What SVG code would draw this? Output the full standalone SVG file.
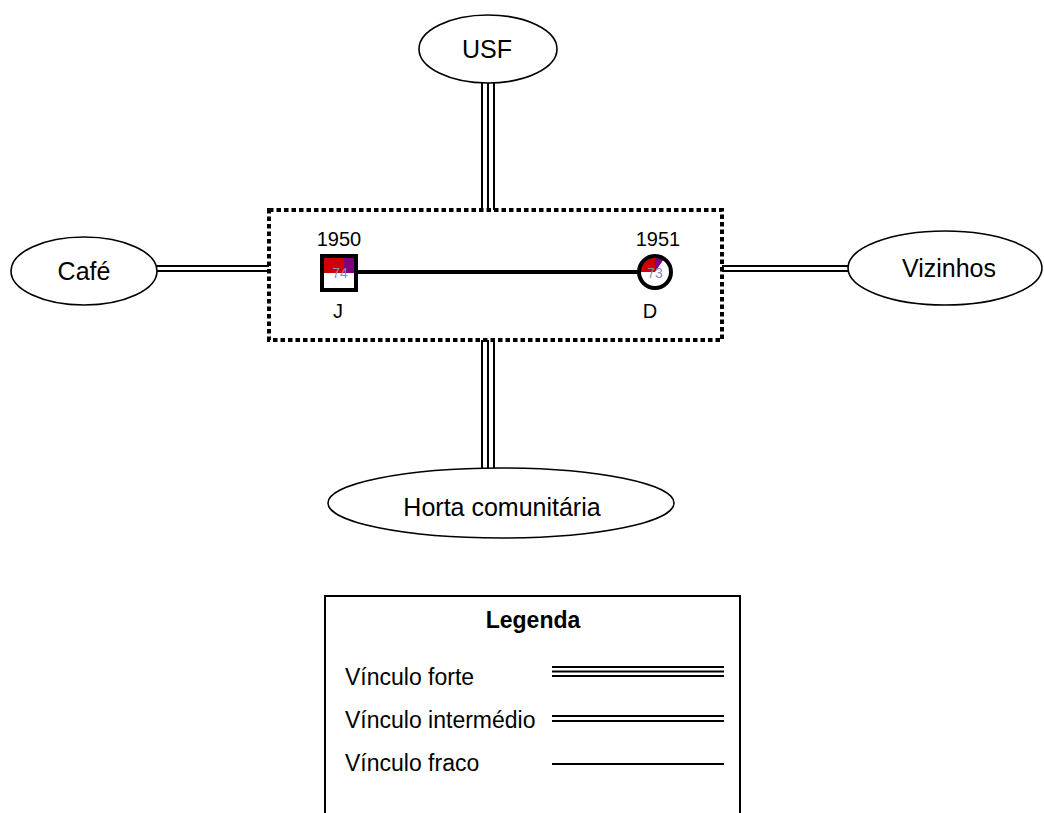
<svg xmlns="http://www.w3.org/2000/svg" width="1044" height="813" viewBox="0 0 1044 813">
  <style>
    .lbl { font-family: "Liberation Sans", Arial, sans-serif; fill: #000; }
    .big { font-size: 25px; text-anchor: middle; }
    .yr { font-size: 20px; text-anchor: middle; }
    .leg { font-size: 23px; }
    .age { font-family: "Liberation Sans", Arial, sans-serif; font-size: 14px; fill: #8a8fb0; text-anchor: middle; }
    .ell { fill: #fff; stroke: #000; stroke-width: 1.6; }
    .tie { stroke: #000; stroke-width: 2; fill: none; }
  </style>

  <rect width="1044" height="813" fill="#fff"/>

  <!-- connectors between the household and its contacts -->
  <g id="connectors">
    <!-- USF: strong tie -->
    <line class="tie" x1="482" y1="82" x2="482" y2="210"/>
    <line class="tie" x1="488" y1="82" x2="488" y2="210"/>
    <line class="tie" x1="494" y1="82" x2="494" y2="210"/>
    <!-- Horta comunitária: strong tie -->
    <line class="tie" x1="482" y1="340" x2="482" y2="468"/>
    <line class="tie" x1="488" y1="340" x2="488" y2="468"/>
    <line class="tie" x1="494" y1="340" x2="494" y2="468"/>
    <!-- Café: intermediate tie -->
    <line class="tie" x1="156" y1="266" x2="269" y2="266"/>
    <line class="tie" x1="156" y1="271" x2="269" y2="271"/>
    <!-- Vizinhos: intermediate tie -->
    <line class="tie" x1="722" y1="266" x2="848" y2="266"/>
    <line class="tie" x1="722" y1="271" x2="848" y2="271"/>
  </g>

  <!-- household frame -->
  <g id="household">
    <rect x="269" y="210" width="453" height="130" fill="none" stroke="#000" stroke-width="4" stroke-dasharray="4.5 3"/>
    <!-- marriage line -->
    <line x1="356" y1="272" x2="640" y2="272" stroke="#000" stroke-width="4"/>
  </g>

  <g id="node-J">
    <text class="lbl yr" x="339" y="246">1950</text>
    <rect x="322" y="256" width="34" height="34" fill="#fff"/>
    <rect x="322" y="256" width="22" height="17" fill="#d00000"/>
    <rect x="344" y="256" width="12" height="17" fill="#800080"/>
    <rect x="322" y="256" width="34" height="34" fill="none" stroke="#000" stroke-width="4"/>
    <text class="age" x="340" y="278">74</text>
    <text class="lbl yr" x="338" y="318">J</text>
  </g>

  <g id="node-D">
    <text class="lbl yr" x="658" y="246">1951</text>
    <circle cx="655" cy="272" r="16" fill="#fff"/>
    <path d="M655 272 L639 272 A16 16 0 0 1 655 256 Z" fill="#d00000"/>
    <path d="M655 272 L655 256 A16 16 0 0 1 664 258.8 Z" fill="#800080"/>
    <circle cx="655" cy="272" r="16" fill="none" stroke="#000" stroke-width="4"/>
    <text class="age" x="655" y="278">73</text>
    <text class="lbl yr" x="650" y="318">D</text>
  </g>

  <g id="node-usf">
    <ellipse class="ell" cx="488" cy="49" rx="69" ry="34"/>
    <text class="lbl big" x="487" y="58">USF</text>
  </g>

  <g id="node-cafe">
    <ellipse class="ell" cx="84" cy="271" rx="73" ry="34"/>
    <text class="lbl big" x="84" y="280">Café</text>
  </g>

  <g id="node-vizinhos">
    <ellipse class="ell" cx="945" cy="268" rx="97" ry="37"/>
    <text class="lbl big" x="949" y="277">Vizinhos</text>
  </g>

  <g id="node-horta">
    <ellipse class="ell" cx="501" cy="503" rx="173" ry="35"/>
    <text class="lbl big" x="502" y="516">Horta comunitária</text>
  </g>

  <!-- key -->
  <g id="legend">
    <rect x="325" y="596" width="415" height="240" fill="#fff" stroke="#000" stroke-width="2"/>
    <text class="lbl" x="533" y="628" font-size="23" font-weight="bold" text-anchor="middle">Legenda</text>
    <text class="lbl leg" x="345" y="685">Vínculo forte</text>
    <line class="tie" x1="552" y1="667" x2="724" y2="667"/>
    <line class="tie" x1="552" y1="671.5" x2="724" y2="671.5"/>
    <line class="tie" x1="552" y1="676" x2="724" y2="676"/>
    <text class="lbl leg" x="345" y="728">Vínculo intermédio</text>
    <line class="tie" x1="552" y1="716" x2="724" y2="716"/>
    <line class="tie" x1="552" y1="721" x2="724" y2="721"/>
    <text class="lbl leg" x="345" y="771">Vínculo fraco</text>
    <line class="tie" x1="552" y1="764" x2="724" y2="764"/>
  </g>
</svg>
